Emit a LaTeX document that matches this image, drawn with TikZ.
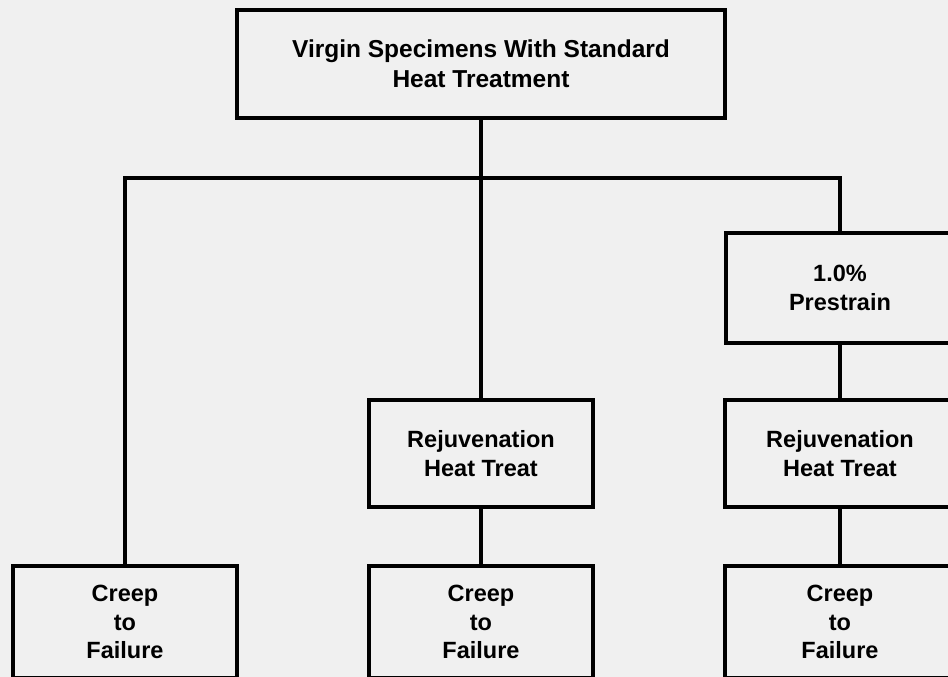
\documentclass[tikz,border=0pt]{standalone}
\usepackage{fontspec}
\setmainfont{Liberation Sans}
\definecolor{paper}{RGB}{240,240,240}
\tikzset{
  box/.style={draw=black, line width=4pt, rectangle, align=center,
    font=\bfseries\fontsize{23.5}{29}\selectfont, inner sep=0pt},
  conn/.style={draw=black, line width=3.6pt}
}
\begin{document}
\begin{tikzpicture}[x=1pt,y=-1pt]
\useasboundingbox (0,0) rectangle (948,677);
\fill[paper] (0,0) rectangle (948,677);
\clip (0,0) rectangle (948,677);
\node[box, minimum width=488pt, minimum height=108pt,
  font=\bfseries\fontsize{24.5}{30}\selectfont] (top) at (481,64)
  {Virgin Specimens With Standard\\Heat Treatment};
\node[box, minimum width=228pt, minimum height=110pt] (pre) at (840,288) {1.0\%\\Prestrain};
\node[box, minimum width=224pt, minimum height=107pt] (rejm) at (481,453.5) {Rejuvenation\\Heat Treat};
\node[box, minimum width=230pt, minimum height=107pt] (rejr) at (840,453.5) {Rejuvenation\\Heat Treat};
\node[box, minimum width=224pt, minimum height=112pt, font=\bfseries\fontsize{23.5}{28.5}\selectfont] (crl) at (125,622) {Creep\\to\\Failure};
\node[box, minimum width=224pt, minimum height=112pt, font=\bfseries\fontsize{23.5}{28.5}\selectfont] (crm) at (481,622) {Creep\\to\\Failure};
\node[box, minimum width=230pt, minimum height=112pt, font=\bfseries\fontsize{23.5}{28.5}\selectfont] (crr) at (840,622) {Creep\\to\\Failure};
\coordinate (j) at (481,178);
\draw[conn] (top.south) -- (rejm.north);
\draw[conn] (crl.north) -- (crl.north |- j) -- (pre.north |- j) -- (pre.north);
\draw[conn] (pre.south) -- (rejr.north);
\draw[conn] (rejm.south) -- (crm.north);
\draw[conn] (rejr.south) -- (crr.north);
\end{tikzpicture}
\end{document}
